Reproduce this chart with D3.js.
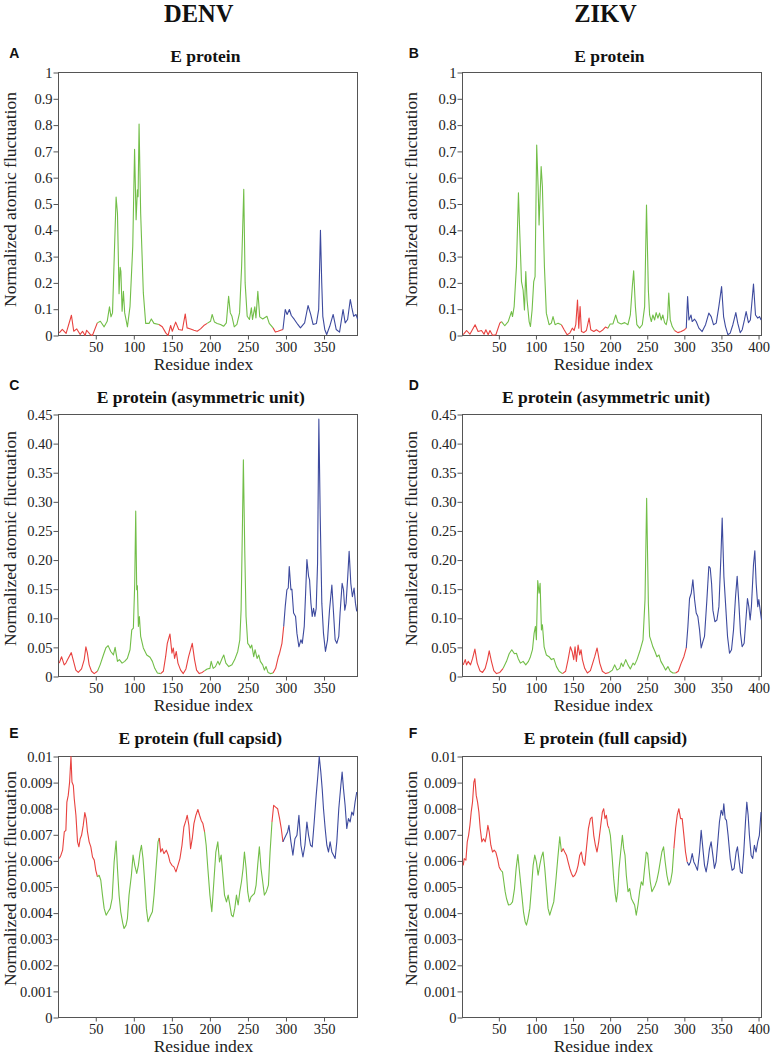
<!DOCTYPE html>
<html><head><meta charset="utf-8">
<script src="https://cdn.jsdelivr.net/npm/d3@7"></script>
<style>body{margin:0;background:#fff}svg{display:block}</style>
</head><body>
<svg id="chart" width="773" height="1055"></svg>
<script>
// ---------- data (residue index, normalized atomic fluctuation) ----------
const denvE = [[2,.010],[6,.023],[11,.008],[18,.077],[21,.016],[25,.025],[29.5,.004],[32.6,.016],[36,0],[38,.020],[42.6,.004],[45.6,0],[52,.048],[56,.054],[61,.033],[65,.054],[68,.109],[70,.071],[72,.086],[76.7,.526],[78.5,.465],[80.6,.159],[82,.259],[83,.244],[84.6,.092],[86.3,.168],[88,.086],[91.6,.033],[95,.111],[98.6,.339],[101,.708],[103,.44],[104.7,.554],[105.6,.528],[106.9,.804],[109,.465],[112.5,.162],[115.6,.046],[120,.046],[123,.063],[126.5,.046],[133,.042],[137.4,.033],[142,.010],[145,0],[148.4,.038],[150.6,.016],[155,.051],[159,.023],[163.7,.020],[167.6,.082],[170,.029],[174.6,.025],[179,.020],[183.3,.016],[187.7,.025],[192,.038],[196.4,.046],[200.8,.054],[203,.080],[206,.051],[209.5,.046],[214,.042],[218,.035],[221.6,.048],[224.6,.149],[226.8,.086],[229,.073],[232,.033],[235.5,.042],[239,.086],[241.7,.263],[244.5,.556],[246.3,.2],[249,.073],[252,.061],[254.5,.105],[256,.061],[259,.109],[260.5,.067],[263,.168],[265.5,.071],[269.4,.063],[275,.073],[278,.046],[283,.029],[286,.013],[289.5,.016],[293,.020],[296,.023],[299,.099],[301.5,.080],[304.5,.099],[307,.076],[311,.061],[315.5,.042],[319,.029],[324.5,.048],[329,.114],[332.5,.080],[335.6,.042],[340,.046],[343,.099],[345.3,.4],[347,.2],[348.4,.073],[351,.023],[353.5,.004],[357.5,.035],[362,.080],[366,.023],[370.4,.013],[375,.099],[377.8,.048],[381,.061],[384.5,.137],[386.6,.105],[389,.073],[392,.080],[394,.063]];

const zikvE = [[2,.003],[6.5,.019],[11,.005],[18,.041],[22,.015],[26.6,.019],[30,.005],[32.5,.022],[35.6,.003],[38,.019],[41.5,.001],[46,.003],[51.3,.047],[53.6,.053],[58,.037],[62.6,.053],[67,.091],[68.4,.072],[70.6,.11],[73.7,.262],[76.4,.543],[78.2,.389],[80.5,.205],[82.7,.173],[84.5,.097],[86.3,.243],[88,.135],[90.8,.053],[92.6,.034],[94.8,.097],[97,.205],[98.8,.224],[101,.724],[102.9,.566],[104.2,.42],[107,.642],[108.7,.566],[111.4,.262],[114,.085],[117.7,.041],[120.8,.047],[123,.072],[125.8,.041],[129.8,.047],[134.3,.041],[138,.022],[142,.003],[145.5,.009],[149,.028],[151.4,.019],[153.7,.041],[156,.135],[157.7,.028],[159.5,.11],[161.3,.015],[164.4,.011],[168,.019],[171.6,.066],[173.9,.022],[178,.015],[181.5,.022],[186,.013],[190.4,.022],[193.6,.032],[197,.028],[200,.044],[203.8,.044],[207.5,.078],[210.6,.049],[215,.044],[219.6,.049],[224,.041],[227.2,.078],[229.9,.186],[231.7,.246],[234,.11],[236,.041],[239.7,.028],[243.3,.041],[246.5,.11],[249,.496],[251.5,.173],[253.2,.078],[255.5,.053],[257.6,.078],[260,.059],[262,.087],[264.4,.066],[266.6,.085],[268.8,.059],[271,.078],[273.4,.049],[275.6,.041],[277.4,.066],[279,.161],[281,.059],[283.7,.034],[286.8,.019],[291.3,.011],[295.8,.015],[300.3,.022],[302.6,.028],[304.4,.148],[306.2,.059],[309,.078],[310.6,.053],[313.8,.062],[316,.053],[319.6,.028],[324,.015],[328.6,.041],[333,.085],[336.2,.072],[339.3,.041],[343,.047],[346.5,.11],[350.2,.186],[352.9,.072],[355.5,.034],[358.7,.003],[361.8,.009],[365.4,.041],[369.4,.087],[372,.047],[375.3,.011],[378,.022],[381,.059],[383.3,.091],[386.4,.049],[389,.059],[393.2,.196],[395.9,.078],[399,.066],[401.3,.072],[403.5,.059]];

const denvAsym = [[2,.023],[5,.034],[8.5,.020],[10.7,.023],[13,.029],[17.8,.041],[20.8,.026],[23.8,.011],[27,.007],[31.3,.013],[34.8,.029],[37,.051],[39,.040],[41.3,.020],[44.4,.009],[47.9,.005],[52.2,.009],[55.7,.020],[60,.037],[63.2,.049],[66.2,.053],[69.7,.043],[73.2,.037],[75.4,.050],[78.5,.026],[81,.029],[84.6,.023],[88,.026],[91.5,.031],[95,.046],[97.3,.080],[99.4,.083],[101.2,.160],[102.5,.284],[103.8,.149],[104.7,.156],[106,.086],[107.3,.103],[109,.069],[112.5,.049],[117,.037],[121.3,.033],[124.4,.026],[127.5,.014],[131,.006],[135.3,.005],[138.8,.009],[141.8,.034],[144,.057],[147.5,.073],[150.1,.040],[151.9,.049],[153.6,.031],[155.8,.043],[158,.023],[161.5,.011],[165,.005],[168.5,.013],[172,.034],[176.8,.057],[179.8,.029],[182.5,.011],[186,.005],[190,.007],[193,.010],[196.4,.013],[200,.014],[201.7,.026],[204.3,.014],[207.3,.017],[210.4,.026],[212.6,.020],[216,.031],[218.2,.037],[221,.023],[224.8,.017],[229,.020],[232.6,.029],[236.6,.043],[239.3,.063],[241,.114],[242.8,.263],[244,.372],[245.8,.217],[247.5,.103],[249.7,.057],[251.5,.054],[253.2,.049],[255,.054],[257.6,.034],[259.4,.046],[262,.031],[264.2,.037],[266.3,.026],[269.4,.020],[271.6,.011],[273.8,.017],[276.4,.007],[279.4,.005],[283,.006],[286.4,.014],[290,.034],[291.6,.040],[294.7,.057],[297,.086],[299,.120],[301.2,.149],[303,.152],[304.3,.189],[306.5,.149],[307.8,.150],[310,.109],[312.6,.103],[314.4,.074],[317,.051],[319.6,.063],[321.4,.057],[324,.086],[325.8,.143],[327.5,.201],[329.7,.172],[331,.166],[332.8,.126],[334.5,.103],[336.2,.117],[338,.103],[339.7,.117],[341.5,.194],[343.2,.442],[345,.275],[347.1,.126],[349.3,.074],[351.9,.043],[354.6,.063],[357.2,.114],[360.3,.157],[362.5,.109],[364.6,.063],[366.8,.057],[369.4,.069],[371.1,.109],[373.8,.160],[375.6,.149],[377.3,.114],[379,.126],[381.2,.172],[383,.215],[385.2,.160],[387.3,.137],[389.5,.152],[391.3,.126],[393,.112]];

const zikvAsym = [[2,.020],[4.7,.029],[6.5,.020],[8.7,.026],[11.8,.020],[14.6,.031],[17.7,.047],[20.8,.023],[24.4,.010],[28,.007],[31.6,.014],[34.7,.029],[37,.044],[40,.026],[43.2,.010],[46.8,.005],[51.3,.007],[55.8,.014],[60.3,.026],[63.9,.039],[67.4,.046],[71,.039],[73.7,.040],[76,.031],[79,.023],[82.7,.026],[86.3,.020],[89.9,.026],[92.6,.034],[95.3,.046],[97.5,.074],[99.3,.086],[100.6,.063],[102.4,.165],[104.2,.143],[105.6,.160],[107.4,.080],[108.7,.089],[111,.051],[114,.037],[117.7,.034],[120.8,.029],[124,.031],[127.6,.017],[131.2,.009],[135.7,.005],[140,.009],[143.3,.029],[146.4,.051],[148.7,.043],[150.9,.029],[152.7,.051],[154.5,.026],[156.8,.054],[159,.037],[160.8,.046],[162.6,.029],[165.7,.014],[169.3,.006],[173.4,.010],[179.2,.034],[182.4,.049],[186,.023],[189.5,.009],[194,.005],[198.5,.007],[203,.011],[206.1,.020],[209.3,.011],[212.9,.014],[215,.023],[217.4,.017],[221,.029],[224,.020],[227.2,.013],[230.8,.023],[233,.020],[236.2,.029],[240.6,.046],[244.3,.063],[247,.132],[249.2,.306],[251.5,.126],[253.2,.069],[255.5,.060],[257.6,.051],[260.4,.043],[263,.034],[265.8,.037],[268.4,.026],[271.1,.020],[274.7,.011],[277.9,.017],[281,.009],[284.6,.006],[288.2,.006],[291.8,.009],[295.8,.023],[299.4,.034],[302.6,.049],[304.8,.086],[307,.134],[309.3,.143],[311.5,.166],[313.8,.132],[316,.109],[318.2,.103],[320.5,.080],[322.7,.049],[325,.060],[327.2,.069],[330.4,.132],[333,.189],[334.9,.186],[336.7,.160],[338.5,.114],[341.2,.094],[343.9,.097],[346.6,.120],[349.3,.206],[351,.272],[353.3,.172],[355.5,.126],[358.2,.069],[360.9,.040],[363.6,.046],[366.3,.080],[369,.137],[371.2,.172],[373.5,.126],[375.7,.074],[377.9,.051],[380.6,.057],[383.3,.103],[385.1,.134],[386.9,.120],[388.7,.097],[390.4,.120],[393.2,.192],[395,.216],[396.8,.160],[399,.120],[400.4,.132],[402.2,.114],[404,.097]];

const denvCapsid = [[2,6.09e-3],[4.2,6.22e-3],[6.4,6.41e-3],[8.6,7.11e-3],[10.7,7.17e-3],[12,8.25e-3],[13.8,8.51e-3],[15.6,9.02e-3],[17.4,10.0e-3],[18.7,9.02e-3],[20.5,8.89e-3],[21.7,8.38e-3],[23.9,7.75e-3],[26,6.73e-3],[27.8,6.54e-3],[29.5,6.85e-3],[31.3,6.98e-3],[33.5,7.36e-3],[35.6,7.85e-3],[37.4,7.62e-3],[39.1,7.11e-3],[41.3,6.73e-3],[43.5,6.54e-3],[45.7,6.15e-3],[48,6.03e-3],[50,5.64e-3],[52.2,5.39e-3],[54.4,5.45e-3],[56.6,5.26e-3],[58.8,4.69e-3],[61,4.18e-3],[63.6,3.92e-3],[66.2,4.05e-3],[68.9,4.18e-3],[71.5,4.56e-3],[74.1,5.96e-3],[76.7,6.76e-3],[78.5,5.71e-3],[80.6,4.69e-3],[82.8,4.05e-3],[85.5,3.61e-3],[87.2,3.41e-3],[89.8,3.54e-3],[91.6,3.80e-3],[93.7,4.69e-3],[96.8,5.45e-3],[99,6.22e-3],[101.2,5.83e-3],[103.8,5.52e-3],[106,5.83e-3],[108.2,6.34e-3],[110,6.60e-3],[112.1,6.09e-3],[114.3,5.20e-3],[116.5,4.18e-3],[118.7,3.67e-3],[121.3,3.86e-3],[124.4,4.05e-3],[126.6,4.69e-3],[129.2,5.71e-3],[131.8,6.73e-3],[133.5,6.88e-3],[135.3,6.34e-3],[137.4,6.47e-3],[139.6,6.28e-3],[142.7,6.41e-3],[145.3,6.22e-3],[147.5,5.96e-3],[150.1,5.83e-3],[152.7,5.77e-3],[155.4,5.58e-3],[158,5.83e-3],[160.6,6.09e-3],[163.3,6.60e-3],[165.8,7.30e-3],[168.5,7.55e-3],[170.2,7.75e-3],[172.4,7.36e-3],[174.6,6.47e-3],[176.8,6.85e-3],[179,7.43e-3],[181.6,7.75e-3],[184.2,7.97e-3],[186.4,7.75e-3],[188.6,7.55e-3],[190.8,7.43e-3],[193,7.11e-3],[195.1,6.60e-3],[197.3,5.71e-3],[200,4.69e-3],[202.5,4.05e-3],[205.2,5.20e-3],[207.8,6.34e-3],[210.4,6.73e-3],[212.6,5.96e-3],[214.8,6.22e-3],[217,5.45e-3],[219.2,4.69e-3],[221.8,4.43e-3],[224,4.69e-3],[226.2,4.31e-3],[228.4,3.92e-3],[230.5,3.86e-3],[232.7,4.18e-3],[234.9,4.69e-3],[237.1,4.31e-3],[239.3,4.82e-3],[241.5,5.20e-3],[243.6,5.71e-3],[245.4,6.34e-3],[247.6,5.71e-3],[249.7,4.82e-3],[251.9,4.43e-3],[254.1,4.62e-3],[256.3,4.69e-3],[258.5,4.75e-3],[260.7,5.07e-3],[262.8,5.83e-3],[265,6.54e-3],[267.2,5.71e-3],[269.4,5.20e-3],[271.6,4.69e-3],[274.2,4.82e-3],[276.9,5.07e-3],[279.1,6.34e-3],[281.6,7.49e-3],[283.8,8.13e-3],[286.4,8.06e-3],[289,8.00e-3],[291.6,7.62e-3],[293.8,7.24e-3],[296,6.73e-3],[297.8,6.85e-3],[300,6.98e-3],[302.1,7.11e-3],[303.9,7.36e-3],[306.5,6.73e-3],[309.1,6.22e-3],[311.8,6.85e-3],[314.4,6.98e-3],[317,7.75e-3],[319.6,6.60e-3],[322.3,6.15e-3],[324.9,6.60e-3],[327.5,7.49e-3],[329.7,6.98e-3],[332.3,6.60e-3],[334.5,6.54e-3],[337.1,7.49e-3],[339.7,8.51e-3],[341.9,9.27e-3],[343.7,10.0e-3],[345.8,9.40e-3],[347.6,8.76e-3],[349.3,8.00e-3],[351.5,7.24e-3],[353.7,6.60e-3],[355.9,6.34e-3],[358,6.73e-3],[360.3,6.34e-3],[362.5,6.22e-3],[364.6,6.09e-3],[366.8,6.73e-3],[369.4,8.00e-3],[372.1,8.89e-3],[373.8,9.40e-3],[375.6,8.76e-3],[377.7,8.13e-3],[379.9,7.24e-3],[382.1,7.62e-3],[384.3,7.49e-3],[386.5,7.87e-3],[388.6,7.75e-3],[390.8,8.25e-3],[393,8.64e-3]];

const zikvCapsid = [[2,5.83e-3],[3.3,6.09e-3],[5.6,6.03e-3],[7.4,6.73e-3],[9.2,6.98e-3],[11,7.36e-3],[12.7,7.87e-3],[14.5,8.25e-3],[16.3,9.02e-3],[17.7,9.15e-3],[19.5,8.51e-3],[21.3,8.25e-3],[23.1,7.87e-3],[24.9,7.24e-3],[27.1,6.73e-3],[29.3,6.85e-3],[31.6,6.73e-3],[33.4,6.98e-3],[35.2,7.36e-3],[37,7.11e-3],[39.2,6.60e-3],[41.5,6.34e-3],[43.7,6.41e-3],[45.9,6.34e-3],[48.2,6.09e-3],[50.4,5.77e-3],[52.7,5.64e-3],[54.9,5.58e-3],[56.7,5.20e-3],[58.5,4.82e-3],[60.3,4.56e-3],[63,4.31e-3],[65.7,4.33e-3],[68.4,4.43e-3],[71.1,4.94e-3],[73.3,5.71e-3],[75.6,6.24e-3],[77.4,5.71e-3],[79.2,5.20e-3],[81,4.69e-3],[83.2,4.05e-3],[85.4,3.67e-3],[87.2,3.54e-3],[89.4,3.80e-3],[91.7,4.18e-3],[93.9,4.94e-3],[96.2,5.83e-3],[98.4,6.22e-3],[100.6,5.96e-3],[102.9,5.45e-3],[105.1,5.83e-3],[107.4,6.15e-3],[109.6,6.34e-3],[111.9,5.71e-3],[114.1,4.94e-3],[116.3,4.18e-3],[118.6,3.92e-3],[121.3,4.18e-3],[124,4.43e-3],[126.7,5.20e-3],[129.4,6.09e-3],[132.1,6.92e-3],[134.4,6.34e-3],[136.6,6.47e-3],[138.8,6.34e-3],[141.1,6.22e-3],[143.3,5.96e-3],[145.6,5.71e-3],[147.8,5.52e-3],[150,5.39e-3],[152.3,5.45e-3],[154.5,5.58e-3],[156.8,5.83e-3],[159,6.22e-3],[161.2,6.34e-3],[163.5,5.96e-3],[165.7,5.83e-3],[168,6.47e-3],[170.7,7.24e-3],[173.4,7.62e-3],[175.6,7.68e-3],[177.9,6.98e-3],[180.1,6.60e-3],[182.3,6.34e-3],[184.6,6.73e-3],[186.8,7.24e-3],[189.5,7.87e-3],[191.3,8.00e-3],[193.1,7.62e-3],[194.9,7.75e-3],[196.7,7.36e-3],[198.5,7.24e-3],[200.3,6.98e-3],[202.5,6.22e-3],[204.8,5.32e-3],[207,4.69e-3],[208.4,4.43e-3],[210.2,4.82e-3],[212,5.71e-3],[214.2,6.34e-3],[216.5,6.98e-3],[218.3,6.47e-3],[220,6.22e-3],[221.8,5.45e-3],[224.1,4.82e-3],[226.3,4.94e-3],[228.6,4.56e-3],[230.8,4.43e-3],[233,4.31e-3],[235.2,3.92e-3],[237.5,4.31e-3],[239.7,4.82e-3],[242,5.20e-3],[244.2,5.07e-3],[246.4,5.71e-3],[248.7,6.34e-3],[250.5,6.28e-3],[252.3,5.71e-3],[254.1,5.20e-3],[256.3,4.82e-3],[258.6,4.94e-3],[260.8,5.07e-3],[263,5.26e-3],[265.3,5.58e-3],[267.5,5.96e-3],[269.7,6.34e-3],[272,6.54e-3],[274.2,5.96e-3],[276.5,5.45e-3],[279.2,5.07e-3],[281.4,5.20e-3],[283.7,5.58e-3],[285.9,6.47e-3],[288.2,7.24e-3],[290.4,7.75e-3],[292.6,8.00e-3],[294.9,7.62e-3],[297.1,7.62e-3],[299.4,6.98e-3],[301.6,6.34e-3],[303.8,5.96e-3],[306.1,5.83e-3],[308.3,5.96e-3],[310.6,6.28e-3],[312.8,5.96e-3],[315,5.83e-3],[317.7,5.64e-3],[320.5,6.34e-3],[322.7,7.17e-3],[325,6.47e-3],[327.2,5.83e-3],[329.4,5.58e-3],[331.7,5.96e-3],[333.9,6.47e-3],[336.1,6.73e-3],[338.4,6.22e-3],[340.6,5.71e-3],[342.8,5.96e-3],[345.1,6.73e-3],[347.3,7.49e-3],[349.6,7.94e-3],[351.8,7.75e-3],[353.2,8.19e-3],[355,7.62e-3],[356.8,7.55e-3],[359,6.98e-3],[361.8,6.09e-3],[364.4,5.64e-3],[367.1,5.71e-3],[369.8,6.34e-3],[371.6,6.54e-3],[373.4,6.09e-3],[375.6,5.58e-3],[377.9,5.52e-3],[380.1,6.34e-3],[382.4,7.49e-3],[384.2,8.25e-3],[386,7.75e-3],[387.7,6.98e-3],[390,6.22e-3],[392.2,6.09e-3],[394.4,6.60e-3],[396.7,6.34e-3],[398.9,6.73e-3],[401.1,6.98e-3],[403.4,7.87e-3]];

// domain boundaries (residue where next domain starts) and domain order
const denvBounds = [52, 133, 193, 280, 296];
const zikvBounds = [52, 134, 197, 285, 302];
const domainOrder = ["I", "II", "I", "II", "I", "III"];
const domainColor = {I: "#e8423f", II: "#72be48", III: "#3d4a9e"};

const denvRange = [1, 394];
const zikvRange = [1, 404];
const denvXTicks = [50, 100, 150, 200, 250, 300, 350];
const zikvXTicks = [50, 100, 150, 200, 250, 300, 350, 400];
const yTicksE = [0, 0.1, 0.2, 0.3, 0.4, 0.5, 0.6, 0.7, 0.8, 0.9, 1];
const yTicksAsym = [0, 0.05, 0.10, 0.15, 0.20, 0.25, 0.30, 0.35, 0.40, 0.45];
const yTicksCapsid = [0, 0.001, 0.002, 0.003, 0.004, 0.005, 0.006, 0.007, 0.008, 0.009, 0.01];

const columnHeaders = ["DENV", "ZIKV"];
const panelLetters = ["A", "B", "C", "D", "E", "F"];
const panelTitles = ["E protein", "E protein (asymmetric unit)", "E protein (full capsid)"];
const yLabel = "Normalized atomic fluctuation";
const xLabel = "Residue index";

// ---------- layout ----------
const svg = d3.select("#chart");
const cols = [{x0: 58.5, x1: 357.5, hdr: 198.7, xl: 203.5, yl: 16, letter: 9.3},
              {x0: 462.5, x1: 761.5, hdr: 605.5, xl: 603.5, yl: 416.5, letter: 408.7}];
const rows = [{y0: 72.5, y1: 335.5, title: 61.5, letter: 58.3, ylc: 199.5},
              {y0: 414.5, y1: 676.5, title: 402.5, letter: 390.3, ylc: 538.5},
              {y0: 756.5, y1: 1017.5, title: 743.5, letter: 737.7, ylc: 878.5}];
const titleDx = [[-2.7, -2.6], [-7.2, -5.9], [-7.7, -6.6]];

const fmtE = v => v === 0 ? "0" : String(+v.toFixed(1));
const fmtAsym = v => v === 0 ? "0" : v.toFixed(2);
const fmtCap = v => v === 0 ? "0" : String(+v.toFixed(3));

const panels = [
  {row: 0, col: 0, data: denvE, bounds: denvBounds, xr: denvRange, xt: denvXTicks, yt: yTicksE, ymax: 1, fmt: fmtE},
  {row: 0, col: 1, data: zikvE, bounds: zikvBounds, xr: zikvRange, xt: zikvXTicks, yt: yTicksE, ymax: 1, fmt: fmtE},
  {row: 1, col: 0, data: denvAsym, bounds: denvBounds, xr: denvRange, xt: denvXTicks, yt: yTicksAsym, ymax: 0.45, fmt: fmtAsym},
  {row: 1, col: 1, data: zikvAsym, bounds: zikvBounds, xr: zikvRange, xt: zikvXTicks, yt: yTicksAsym, ymax: 0.45, fmt: fmtAsym},
  {row: 2, col: 0, data: denvCapsid, bounds: denvBounds, xr: denvRange, xt: denvXTicks, yt: yTicksCapsid, ymax: 0.01, fmt: fmtCap},
  {row: 2, col: 1, data: zikvCapsid, bounds: zikvBounds, xr: zikvRange, xt: zikvXTicks, yt: yTicksCapsid, ymax: 0.01, fmt: fmtCap}
];

const serif = "'Liberation Serif','Times New Roman',serif";
const sans = "'Liberation Sans',Arial,sans-serif";

// column headers
columnHeaders.forEach((h, i) => {
  svg.append("text").attr("x", cols[i].hdr).attr("y", 22)
    .attr("text-anchor", "middle").attr("font-family", serif)
    .attr("font-weight", "bold").attr("font-size", 24.5).attr("fill", "#111").text(h);
});

panels.forEach((p, i) => {
  const c = cols[p.col], r = rows[p.row];
  const x = d3.scaleLinear().domain(p.xr).range([c.x0, c.x1]);
  const y = d3.scaleLinear().domain([0, p.ymax]).range([r.y1, r.y0]);
  const g = svg.append("g");

  // panel letter
  g.append("text").attr("x", c.letter).attr("y", r.letter)
    .attr("font-family", sans).attr("font-weight", "bold").attr("font-size", 14)
    .attr("fill", "#111").text(panelLetters[i]);

  // title
  g.append("text").attr("x", (c.x0 + c.x1) / 2 + titleDx[p.row][p.col]).attr("y", r.title)
    .attr("text-anchor", "middle").attr("font-family", serif).attr("font-weight", "bold")
    .attr("font-size", 17.5).attr("fill", "#111").text(panelTitles[p.row]);

  // y label
  g.append("text").attr("transform", `translate(${c.yl},${r.ylc}) rotate(-90)`)
    .attr("text-anchor", "middle").attr("font-family", serif).attr("font-size", 17.5)
    .attr("fill", "#222").text(yLabel);

  // x label
  g.append("text").attr("x", c.xl).attr("y", r.y1 + 34.5)
    .attr("text-anchor", "middle").attr("font-family", serif).attr("font-size", 17.5)
    .attr("fill", "#222").text(xLabel);

  // axes
  const ya = g.append("g").attr("transform", `translate(${c.x0},0)`)
    .call(d3.axisLeft(y).tickValues(p.yt).tickFormat(p.fmt).tickSize(5).tickPadding(1));
  const xa = g.append("g").attr("transform", `translate(0,${r.y1})`)
    .call(d3.axisBottom(x).tickValues(p.xt).tickSize(4).tickPadding(2));
  [ya, xa].forEach(a => {
    a.select(".domain").remove();
    a.selectAll("line").attr("stroke", "#555");
    a.selectAll("text").attr("font-family", serif).attr("font-size", 14.5).attr("fill", "#222");
  });

  // frame
  g.append("rect").attr("x", c.x0).attr("y", r.y0)
    .attr("width", c.x1 - c.x0).attr("height", r.y1 - r.y0)
    .attr("fill", "none").attr("stroke", "#555").attr("stroke-width", 1);

  // colored runs by domain
  const domIdx = res => { let k = 0; while (k < p.bounds.length && res >= p.bounds[k]) k++; return k; };
  const runs = [];
  let cur = null;
  p.data.forEach(d => {
    const k = domIdx(d[0]);
    if (!cur || cur.k !== k) {
      if (cur) cur.pts.push(d);
      cur = {k, pts: [d]};
      runs.push(cur);
    } else cur.pts.push(d);
  });
  const line = d3.line().x(d => x(d[0])).y(d => y(d[1]));
  g.selectAll("path.run").data(runs).join("path").attr("class", "run")
    .attr("d", d => line(d.pts)).attr("fill", "none")
    .attr("stroke", d => domainColor[domainOrder[d.k]])
    .attr("stroke-width", 1.1).attr("stroke-linejoin", "round");
});
</script>
</body></html>
